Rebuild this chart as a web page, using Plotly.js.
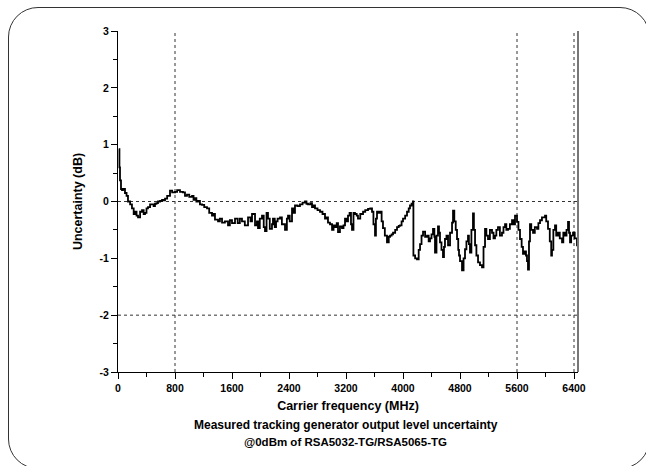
<!DOCTYPE html>
<html>
<head>
<meta charset="utf-8">
<script src="https://cdn.plot.ly/plotly-3.0.1.min.js"></script>
<style>
html,body{margin:0;padding:0;background:#fff;}
#wrap{position:relative;width:646px;height:466px;overflow:hidden;}
#frame{position:absolute;left:8px;top:7px;width:642px;height:462px;border:1px solid #333;border-radius:30px;box-sizing:border-box;pointer-events:none;}
#chart{position:absolute;left:0;top:0;width:646px;height:466px;}
</style>
</head>
<body>
<div id="wrap"><div id="chart"></div><div id="frame"></div></div>
<script>
// Carrier frequency (MHz)
const freqMHz = [10,20,28,42,56,70,98,120,140,170,196,220,239,260,281,310,337,360,379,400,421,450,477,500,519,540,561,590,618,640,660,690,730,760,800,830,870,912,940,968,1000,1039,1060,1081,1100,1123,1150,1179,1210,1249,1280,1319,1340,1361,1404,1430,1460,1500,1544,1570,1600,1642,1680,1710,1740,1780,1825,1860,1881,1923,1950,1965,1990,2021,2045,2063,2085,2105,2130,2161,2175,2200,2218,2240,2274,2300,2344,2370,2386,2410,2442,2460,2484,2520,2554,2590,2625,2645,2667,2700,2723,2745,2765,2800,2835,2870,2905,2930,2947,2975,3004,3025,3046,3070,3088,3115,3144,3165,3186,3210,3228,3250,3270,3284,3305,3326,3350,3368,3400,3439,3470,3509,3540,3565,3585,3607,3620,3635,3655,3677,3700,3719,3745,3775,3800,3818,3840,3860,3890,3916,3940,3958,3980,4000,4030,4056,4080,4098,4120,4140,4146,4170,4196,4220,4239,4260,4281,4310,4337,4360,4379,4400,4421,4440,4449,4470,4491,4505,4519,4540,4561,4575,4589,4610,4632,4660,4688,4702,4720,4740,4758,4775,4786,4800,4828,4850,4870,4890,4912,4925,4940,4960,4982,4995,5011,5030,5053,5080,5109,5130,5151,5170,5193,5220,5249,5270,5291,5310,5333,5360,5389,5410,5432,5450,5474,5500,5530,5550,5572,5600,5620,5642,5665,5684,5705,5726,5740,5754,5768,5782,5800,5825,5850,5881,5900,5923,5950,5993,6010,6035,6060,6080,6091,6110,6133,6150,6175,6200,6232,6250,6274,6295,6316,6330,6344,6360,6386,6410,6442,6456];
// Uncertainty (dB)
const uncertaintyDB = [0.92,0.6,0.37,0.22,0.2,0.22,0.15,0.1,0.0,-0.05,-0.12,-0.22,-0.18,-0.25,-0.28,-0.18,-0.15,-0.22,-0.2,-0.12,-0.1,-0.05,-0.05,-0.08,-0.04,-0.03,0.0,0.01,0.03,0.02,0.05,0.1,0.19,0.16,0.17,0.2,0.17,0.16,0.1,0.12,0.08,0.1,0.03,0.06,0.0,0.01,-0.05,-0.06,-0.1,-0.12,-0.2,-0.25,-0.22,-0.32,-0.35,-0.3,-0.37,-0.35,-0.42,-0.33,-0.38,-0.3,-0.38,-0.3,-0.35,-0.42,-0.28,-0.35,-0.22,-0.42,-0.35,-0.47,-0.3,-0.25,-0.45,-0.52,-0.2,-0.3,-0.48,-0.4,-0.3,-0.45,-0.35,-0.3,-0.28,-0.4,-0.5,-0.3,-0.25,-0.35,-0.12,-0.2,-0.07,-0.08,-0.05,-0.02,0.0,-0.04,-0.05,-0.03,-0.1,-0.07,-0.12,-0.15,-0.18,-0.22,-0.3,-0.28,-0.37,-0.4,-0.5,-0.42,-0.45,-0.38,-0.54,-0.44,-0.47,-0.42,-0.3,-0.35,-0.25,-0.2,-0.4,-0.5,-0.2,-0.22,-0.25,-0.3,-0.22,-0.18,-0.15,-0.13,-0.12,-0.18,-0.4,-0.6,-0.3,-0.18,-0.2,-0.18,-0.35,-0.47,-0.6,-0.72,-0.62,-0.6,-0.58,-0.55,-0.5,-0.45,-0.43,-0.42,-0.35,-0.3,-0.25,-0.18,-0.12,-0.07,-0.04,0.0,-0.95,-1.0,-1.02,-0.85,-0.75,-0.6,-0.53,-0.62,-0.6,-0.7,-0.65,-0.58,-0.48,-0.62,-0.9,-0.6,-0.44,-0.55,-0.72,-0.85,-0.98,-0.8,-0.66,-0.6,-0.77,-0.55,-0.37,-0.16,-0.35,-0.5,-0.66,-0.85,-0.95,-1.05,-1.21,-1.0,-0.84,-0.7,-0.6,-0.75,-0.9,-0.5,-0.21,-0.5,-0.77,-0.95,-1.07,-1.12,-1.16,-0.8,-0.48,-0.6,-0.66,-0.5,-0.55,-0.65,-0.6,-0.5,-0.45,-0.6,-0.55,-0.45,-0.4,-0.5,-0.48,-0.4,-0.33,-0.4,-0.25,-0.36,-0.5,-0.66,-0.8,-0.92,-0.88,-0.95,-1.05,-1.2,-0.7,-0.4,-0.5,-0.55,-0.45,-0.48,-0.38,-0.33,-0.28,-0.25,-0.35,-0.48,-0.7,-0.95,-0.85,-0.5,-0.42,-0.6,-0.55,-0.65,-0.72,-0.55,-0.6,-0.5,-0.36,-0.55,-0.72,-0.6,-0.55,-0.65,-0.77,-0.5];

const xTickVals = [0,800,1600,2400,3200,4000,4800,5600,6400];
const xTickText = ["0","800","1600","2400","3200","4000","4800","5600","6400"];
const yTickVals = [-3,-2,-1,0,1,2,3];
const yTickText = ["-3","-2","-1","0","1","2","3"];
const hGridLevels = [0,-2];
const vGridFreqs = [800,5600,6400];

const titleX = "Carrier frequency (MHz)";
const titleY = "Uncertainty (dB)";
const caption1 = "Measured tracking generator output level uncertainty";
const caption2 = "@0dBm of RSA5032-TG/RSA5065-TG";

const FONT = "Liberation Sans, Arial, sans-serif";

const shapes = [];
hGridLevels.forEach(v => shapes.push({type:'line', xref:'paper', yref:'y', x0:0, x1:1, y0:v, y1:v,
  line:{color:'#333', width:1, dash:'dot'}, layer:'below'}));
vGridFreqs.forEach(v => shapes.push({type:'line', xref:'x', yref:'paper', x0:v, x1:v, y0:0, y1:1,
  line:{color:'#333', width:1, dash:'dot'}, layer:'below'}));
shapes.push({type:'line', xref:'paper', yref:'paper', x0:1, x1:1, y0:0, y1:1, line:{color:'#777', width:2}});

const trace = {
  x: freqMHz, y: uncertaintyDB, type:'scatter', mode:'lines',
  line:{color:'#000', width:1.8, shape:'hv'}, hoverinfo:'skip'
};

const layout = {
  width:646, height:466,
  margin:{l:118, r:68, t:31, b:94},
  paper_bgcolor:'#fff', plot_bgcolor:'#fff',
  showlegend:false,
  font:{family:FONT, color:'#000'},
  xaxis:{
    range:[0,6456], tickmode:'array', tickvals:xTickVals, ticktext:xTickText,
    ticks:'outside', ticklen:6, tickwidth:1, tickcolor:'#000',
    minor:{dtick:400, tick0:0, ticks:'outside', ticklen:4, tickcolor:'#000'},
    showline:true, linecolor:'#000', linewidth:1, showgrid:false, zeroline:false,
    tickfont:{family:FONT, size:10.5, weight:700, color:'#000'},
    title:{text:titleX, font:{family:FONT, size:12.5, weight:700, color:'#000'}, standoff:8}
  },
  yaxis:{
    range:[-3,3], tickmode:'array', tickvals:yTickVals, ticktext:yTickText,
    ticks:'outside', ticklen:6, tickwidth:1, tickcolor:'#000',
    minor:{dtick:0.5, tick0:0, ticks:'outside', ticklen:4, tickcolor:'#000'},
    showline:true, linecolor:'#000', linewidth:1, showgrid:false, zeroline:false,
    tickfont:{family:FONT, size:10.5, weight:700, color:'#000'},
    title:{text:titleY, font:{family:FONT, size:12.5, weight:700, color:'#000'}, standoff:14}
  },
  shapes: shapes,
  annotations:[
    {text:caption1, xref:'paper', yref:'paper', x:0.495, y:-0.154, yanchor:'middle', showarrow:false,
     font:{family:FONT, size:12, weight:700, color:'#000'}},
    {text:caption2, xref:'paper', yref:'paper', x:0.495, y:-0.205, yanchor:'middle', showarrow:false,
     font:{family:FONT, size:11.5, weight:700, color:'#000'}}
  ]
};

Plotly.newPlot('chart', [trace], layout, {staticPlot:true, displayModeBar:false});
</script>
</body>
</html>
